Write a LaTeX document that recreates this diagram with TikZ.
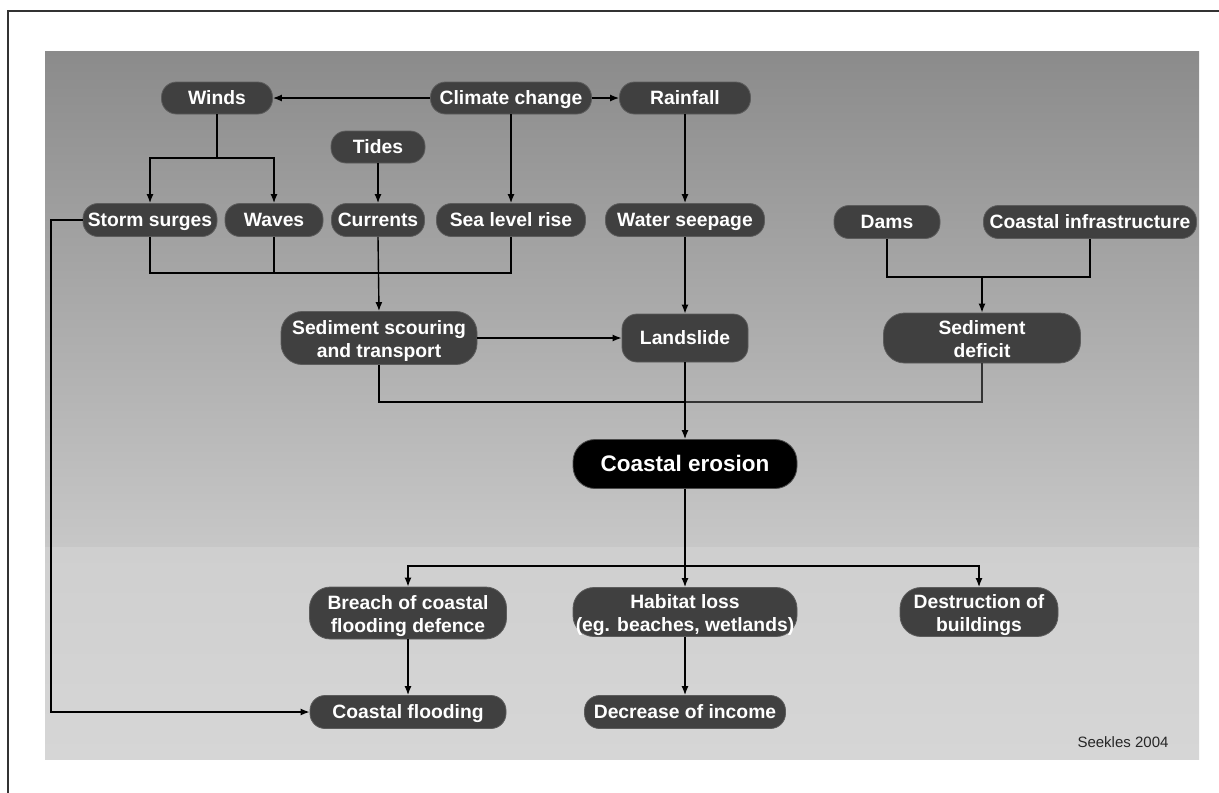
\documentclass[tikz,border=0pt]{standalone}
\usepackage{fontspec}
\setmainfont{Liberation Sans}
\usetikzlibrary{arrows.meta}
\definecolor{nodefill}{HTML}{404040}
\definecolor{nodeedge}{HTML}{5C5C5C}
\definecolor{bgtop}{HTML}{8B8B8B}
\definecolor{bgmid}{HTML}{C7C7C7}
\definecolor{bglow}{HTML}{CFCFCF}
\definecolor{bgbot}{HTML}{D6D6D6}
\tikzset{
  basebox/.style={rectangle, fill=nodefill, draw=nodeedge, line width=0.8pt,
    text=white, inner sep=0pt, align=center, font=\bfseries\fontsize{19.3}{23}\selectfont},
  box/.style={basebox, rounded corners=15pt, text height=14pt, text depth=2pt},
  tallbox/.style={basebox, rounded corners=21pt, text height=38pt, text depth=0pt},
  mainbox/.style={basebox, rounded corners=22pt, fill=black, draw=black!70,
    font=\bfseries\fontsize{22.5}{26}\selectfont, text height=16pt, text depth=1pt},
  conn/.style={line width=1.4pt, draw=black},
  arr/.style={conn, -{Latex[length=9pt,width=7pt]}},
}
\begin{document}
\begin{tikzpicture}[x=1pt,y=-1pt]
\useasboundingbox (0,0) rectangle (1219,793);
\fill[white] (0,0) rectangle (1219,793);
\draw[line width=1.2pt, black!80] (8,793) -- (8,11) -- (1219,11);
% background
\shade[top color=bgtop, bottom color=bgmid] (45,51) rectangle (1199,547);
\shade[top color=bglow, bottom color=bgbot] (45,547) rectangle (1199,759);

% nodes
\node[box, minimum width=111, minimum height=32] (winds) at (217,98) {Winds};
\node[box, minimum width=161, minimum height=32] (climate) at (511,98) {Climate change};
\node[box, minimum width=131, minimum height=32] (rain) at (685,98) {Rainfall};
\node[box, minimum width=94, minimum height=32] (tides) at (378,147) {Tides};
\node[box, minimum width=134, minimum height=33] (storm) at (150,220) {Storm surges};
\node[box, minimum width=98, minimum height=33] (waves) at (274,220) {Waves};
\node[box, minimum width=93, minimum height=33] (currents) at (378,220) {Currents};
\node[box, minimum width=149, minimum height=33] (slr) at (511,220) {Sea level rise};
\node[box, minimum width=159, minimum height=33] (seep) at (685,220) {Water seepage};
\node[box, minimum width=106, minimum height=33] (dams) at (887,222) {Dams};
\node[box, minimum width=213, minimum height=33] (infra) at (1090,222) {Coastal infrastructure};
\node[tallbox, minimum width=196, minimum height=53] (scour) at (379,338) {Sediment scouring\\and transport};
\node[box, minimum width=126, minimum height=48] (land) at (685,338) {Landslide};
\node[tallbox, minimum width=197, minimum height=50] (deficit) at (982,338) {Sediment\\deficit};
\node[mainbox, minimum width=224, minimum height=49] (erosion) at (685,464) {Coastal erosion};
\node[tallbox, minimum width=197, minimum height=52] (breach) at (408,613) {Breach of coastal\\flooding defence};
\node[tallbox, minimum width=224, minimum height=49] (habitat) at (685,612) {Habitat loss\\(eg. beaches, wetlands)};
\node[tallbox, minimum width=158, minimum height=49] (destr) at (979,612) {Destruction of\\buildings};
\node[box, minimum width=196, minimum height=33] (flood) at (408,712) {Coastal flooding};
\node[box, minimum width=201, minimum height=33] (income) at (685,712) {Decrease of income};
\node[font=\fontsize{15}{18}\selectfont, text=black!85, inner sep=0pt] (credit) at (1123,742) {Seekles 2004};

% junction points
\coordinate (wj) at (217,158);
\coordinate (j2) at (378,273);
\coordinate (j3) at (982,277);
\coordinate (j4) at (685,402);
\coordinate (j5) at (685,566);
\coordinate (sl) at (51,219);

% connectors
\draw[arr] (climate.west) -- (winds.east);
\draw[arr] (climate.east) -- (rain.west);
\draw[arr] (climate.south) -- (slr.north);
\draw[arr] (rain.south) -- (seep.north);
\draw[arr] (tides.south) -- (currents.north);
\draw[conn, line width=2.6pt] (winds.south) -- (wj);
\draw[arr] (wj) -| (storm.north);
\draw[arr] (wj) -| (waves.north);
\draw[conn] (storm.south) |- (j2);
\draw[conn] (waves.south) |- (j2);
\draw[conn] (slr.south) |- (j2);
\draw[arr] (currents.south) -- (scour.north);
\draw[arr] (scour.east) -- (land.west);
\draw[arr] (seep.south) -- (land.north);
\draw[conn] (dams.south) |- (j3) -| (infra.south);
\draw[arr] (j3) -- (deficit.north);
\draw[conn] (scour.south) |- (j4);
\draw[conn, line width=1.8pt, draw=black!80] (deficit.south) |- (j4);
\draw[arr] (land.south) -- (erosion.north);
\draw[arr] (erosion.south) -- (habitat.north);
\draw[arr] (j5) -| (breach.north);
\draw[arr] (j5) -| (destr.north);
\draw[arr] (breach.south) -- (flood.north);
\draw[arr] (habitat.south) -- (income.north);
\draw[arr] (storm.west) -- (sl |- storm.west) |- (flood.west);
\end{tikzpicture}
\end{document}
